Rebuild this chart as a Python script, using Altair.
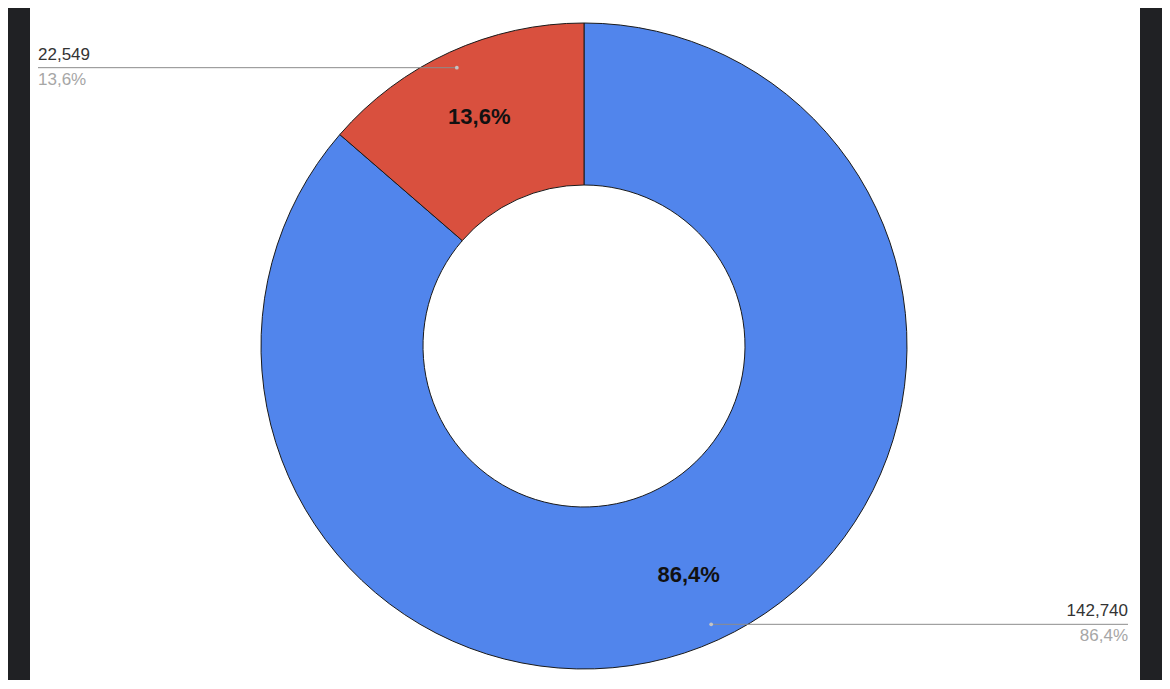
import altair as alt
import pandas as pd

# slice data
series = ["Blue", "Red"]
values = [142740, 22549]
value_labels = ["142,740", "22,549"]
pct_labels = ["86,4%", "13,6%"]
colors = ["#5185EC", "#D9503E"]

VIEW_W, VIEW_H = 1110, 672
CX, CY = 554, 338
R_IN, R_OUT = 161, 323

df = pd.DataFrame({
    "series": series,
    "value": values,
    "value_label": value_labels,
    "pct": pct_labels,
    "idx": list(range(len(series))),
})

color = alt.Color("series:N", scale=alt.Scale(domain=series, range=colors), legend=None)
order = alt.Order("idx:Q")
theta = alt.Theta("value:Q", stack=True)

donut = alt.Chart(df).mark_arc(
    innerRadius=R_IN, outerRadius=R_OUT, stroke="#1a1a1a", strokeWidth=1
).encode(
    theta=theta, color=color, order=order,
    x=alt.value(CX), y=alt.value(CY),
)

inner_text = alt.Chart(df).mark_text(
    radius=252, font="Arial", fontSize=22, fontWeight="bold", color="#111"
).encode(
    theta=theta, order=order, text="pct:N",
    x=alt.value(CX), y=alt.value(CY),
)

# leader geometry from the slice angles
leader = (
    alt.Chart(df)
    .transform_joinaggregate(total="sum(value)")
    .transform_window(cum="sum(value)", sort=[alt.SortField("idx")], frame=[None, 0])
    .transform_calculate(mid="2*PI*(datum.cum - datum.value/2)/datum.total")
    .transform_calculate(
        px=f"{CX} + 306*sin(datum.mid)",
        py=f"{CY} - 306*cos(datum.mid)",
        side="datum.mid > PI ? 'left' : 'right'",
    )
    .transform_calculate(edge="datum.side == 'left' ? 8 : 1098")
)

xs = alt.Scale(domain=[0, VIEW_W], nice=False, zero=False)
ys = alt.Scale(domain=[0, VIEW_H], nice=False, zero=False, reverse=True)

rule = leader.mark_rule(color="#8c8c8c", strokeWidth=1).encode(
    x=alt.X("px:Q", scale=xs, axis=None),
    x2="edge:Q",
    y=alt.Y("py:Q", scale=ys, axis=None),
)

dot = leader.mark_circle(size=14, color="#c4c4c4", opacity=1).encode(
    x=alt.X("px:Q", scale=xs, axis=None),
    y=alt.Y("py:Q", scale=ys, axis=None),
)


def side_labels(side):
    base = leader.transform_filter(f"datum.side == '{side}'")
    num = base.mark_text(
        align=side, baseline="bottom", dy=-4, font="Arial", fontSize=17, color="#333"
    ).encode(
        x=alt.X("edge:Q", scale=xs, axis=None),
        y=alt.Y("py:Q", scale=ys, axis=None),
        text="value_label:N",
    )
    pct = base.mark_text(
        align=side, baseline="top", dy=4, font="Arial", fontSize=17, color="#a6a6a6"
    ).encode(
        x=alt.X("edge:Q", scale=xs, axis=None),
        y=alt.Y("py:Q", scale=ys, axis=None),
        text="pct:N",
    )
    return num + pct


chart = (
    alt.layer(donut, inner_text, rule, dot, side_labels("left"), side_labels("right"))
    .properties(
        width=VIEW_W, height=VIEW_H,
        padding={"left": 22, "right": 22, "top": 0, "bottom": 0},
        background="#202124",
    )
    .configure_view(fill="white", strokeWidth=0)
)

chart.save("out.html", embed_options={"renderer": "svg", "actions": False})
